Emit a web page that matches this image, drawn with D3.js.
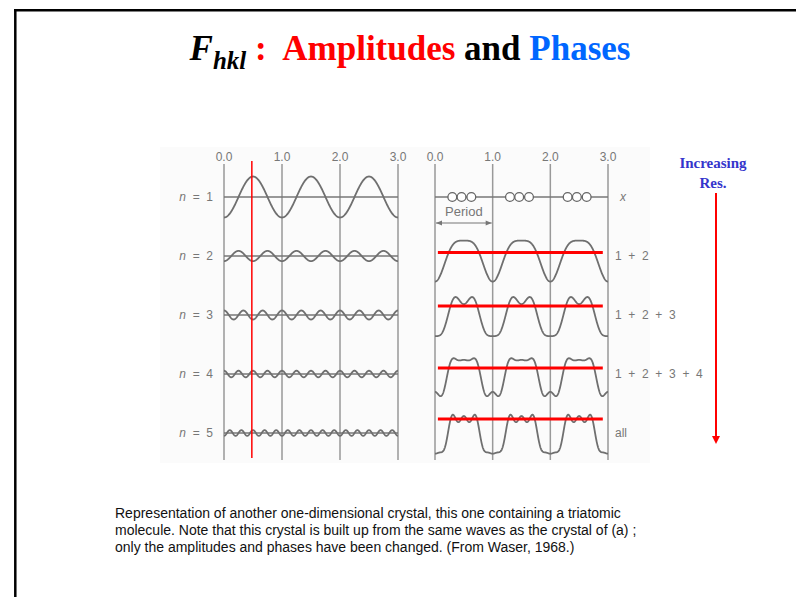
<!DOCTYPE html>
<html lang="en">
<head>
  <meta charset="UTF-8" />
  <title>F_hkl : Amplitudes and Phases</title>
  <script src="https://d3js.org/d3.v7.min.js"></script>
  <style>
    body { margin: 0; background: #fff; }
    svg { display: block; }
    .tick-label { font-family: "Liberation Sans", Arial, sans-serif; font-size: 12px; fill: #777; }
    .row-label { font-family: "Liberation Sans", Arial, sans-serif; font-size: 12px; fill: #777; white-space: pre; }
    .grid { stroke: #999; stroke-width: 1.5px; }
    .wave { stroke: #6f6f6f; stroke-width: 1.8px; fill: none; }
    .base { stroke: #777; stroke-width: 1.3px; }
    .caption { font-family: "Liberation Sans", Arial, sans-serif; font-size: 14px; fill: #111; }
  </style>
</head>
<body>
  <svg id="slide" width="796" height="597"></svg>

  <script>
    // tick values on both panels
    const tickValues = [0, 1, 2, 3];
    const tickLabels = ["0.0", "1.0", "2.0", "3.0"];
    // harmonic orders and their signed amplitudes (coefficient of cos(2π n x))
    const harmonics = [1, 2, 3, 4, 5];
    const coeffs = [-1.0, -0.25, 0.22, 0.16, -0.14];
    // partial sums shown on the right
    const sumOrders = [2, 3, 4, 5];
    const sumLabels = ["1  +  2", "1  +  2  +  3", "1  +  2  +  3  +  4", "all"];
    // red guide levels on the partial sums (same units as coeffs)
    const redLevels = [0.17, 0.44, 0.29, 0.68];
    // atom positions within one period, and red marker on the left panel
    const atomPos = [0.30, 0.46, 0.63];
    const markerX = 0.48;
    const captionLines = [
      "Representation of another one-dimensional crystal, this one containing a triatomic",
      "molecule. Note that this crystal is built up from the same waves as the crystal of (a) ;",
      "only the amplitudes and phases have been changed. (From Waser, 1968.)"
    ];

    const svg = d3.select('#slide');

    // slide frame
    svg.append('line').attr('x1', 14).attr('x2', 796).attr('y1', 10.3).attr('y2', 10.3)
      .attr('stroke', '#000').attr('stroke-width', 2.5);
    svg.append('line').attr('x1', 15.3).attr('x2', 15.3).attr('y1', 9).attr('y2', 597)
      .attr('stroke', '#000').attr('stroke-width', 2.5);

    // title
    const title = svg.append('text').attr('x', 410).attr('y', 60).attr('text-anchor', 'middle')
      .style('font-family', '"Liberation Serif", "Times New Roman", serif')
      .style('font-weight', 'bold').style('font-size', '35px').style('white-space', 'pre');
    title.append('tspan').style('font-style', 'italic').text('F');
    title.append('tspan').style('font-style', 'italic').style('font-size', '25px').attr('dy', 9).text('hkl');
    title.append('tspan').attr('dy', -9).attr('fill', '#ff0000').text(' :  Amplitudes');
    title.append('tspan').attr('fill', '#000').text(' and ');
    title.append('tspan').attr('fill', '#0066ff').text('Phases');

    // figure background
    svg.append('rect').attr('x', 160).attr('y', 147).attr('width', 490).attr('height', 316)
      .attr('fill', '#fbfbfb');

    const xL = d3.scaleLinear().domain([0, 3]).range([224, 398]);
    const xR = d3.scaleLinear().domain([0, 3]).range([435, 608]);
    const rowY = d3.scaleLinear().domain([1, 5]).range([197, 433]);
    const amp = d3.scaleLinear().domain([-1, 1]).range([20.5, -20.5]);
    const gridTop = 164, gridBottom = 460;

    const samples = d3.range(0, 3.0001, 0.004);
    const partial = (x, order) => d3.sum(harmonics.slice(0, order), (n, i) => coeffs[i] * Math.cos(2 * Math.PI * n * x));

    [xL, xR].forEach(x => {
      svg.append('g').selectAll('line').data(tickValues).join('line').attr('class', 'grid')
        .attr('x1', d => x(d)).attr('x2', d => x(d)).attr('y1', gridTop).attr('y2', gridBottom);
      svg.append('g').selectAll('text').data(tickValues).join('text').attr('class', 'tick-label')
        .attr('x', d => x(d)).attr('y', 161).attr('text-anchor', 'middle').text((d, i) => tickLabels[i]);
    });

    // left panel: individual harmonics
    harmonics.forEach((n, i) => {
      const y0 = rowY(n);
      svg.append('line').attr('class', 'base').attr('x1', xL(0)).attr('x2', xL(3)).attr('y1', y0).attr('y2', y0);
      svg.append('path').attr('class', 'wave')
        .attr('d', d3.line().x(d => xL(d)).y(d => y0 + amp(coeffs[i] * Math.cos(2 * Math.PI * n * d)))(samples));
      const lab = svg.append('text').attr('class', 'row-label').attr('x', 213).attr('y', y0 + 4)
        .attr('text-anchor', 'end');
      lab.append('tspan').style('font-style', 'italic').text('n');
      lab.append('tspan').text('  =  ' + n);
    });

    // red marker
    svg.append('line').attr('x1', xL(markerX)).attr('x2', xL(markerX)).attr('y1', 161).attr('y2', 458)
      .attr('stroke', '#ff0000').attr('stroke-width', 1.5);

    // right panel: atoms row
    const yA = rowY(1);
    svg.append('line').attr('class', 'base').attr('x1', xR(0)).attr('x2', xR(3)).attr('y1', yA).attr('y2', yA);
    const atoms = d3.range(3).flatMap(p => atomPos.map(a => p + a));
    svg.append('g').selectAll('circle').data(atoms).join('circle')
      .attr('cx', d => xR(d)).attr('cy', yA).attr('r', 4.4)
      .attr('fill', '#fff').attr('stroke', '#666').attr('stroke-width', 1.3);
    svg.append('text').attr('class', 'row-label').attr('x', 620).attr('y', yA + 4)
      .style('font-style', 'italic').text('x');
    svg.append('text').attr('class', 'row-label').attr('x', (xR(0) + xR(1)) / 2).attr('y', 216)
      .attr('text-anchor', 'middle').style('font-size', '13px').text('Period');

    const defs = svg.append('defs');
    defs.append('marker').attr('id', 'gh').attr('viewBox', '0 0 10 10').attr('refX', 10).attr('refY', 5)
      .attr('markerWidth', 7).attr('markerHeight', 5).attr('orient', 'auto-start-reverse')
      .append('path').attr('d', 'M0,1 L10,5 L0,9 Z').attr('fill', '#777');
    defs.append('marker').attr('id', 'rh').attr('viewBox', '0 0 10 10').attr('refX', 5).attr('refY', 5)
      .attr('markerWidth', 4).attr('markerHeight', 4).attr('orient', 'auto')
      .append('path').attr('d', 'M0,0 L10,5 L0,10 Z').attr('fill', '#ff0000');

    svg.append('line').attr('x1', xR(0) + 1).attr('x2', xR(1) - 1).attr('y1', 223).attr('y2', 223)
      .attr('stroke', '#777').attr('stroke-width', 1.2)
      .attr('marker-start', 'url(#gh)').attr('marker-end', 'url(#gh)');

    // right panel: partial sums
    sumOrders.forEach((order, k) => {
      const y0 = rowY(order);
      svg.append('path').attr('class', 'wave')
        .attr('d', d3.line().x(d => xR(d)).y(d => y0 + amp(partial(d, order)))(samples));
      svg.append('line').attr('x1', xR(0.05)).attr('x2', xR(2.91))
        .attr('y1', y0 + amp(redLevels[k])).attr('y2', y0 + amp(redLevels[k]))
        .attr('stroke', '#ff0000').attr('stroke-width', 3);
      svg.append('text').attr('class', 'row-label').attr('x', 615).attr('y', y0 + 4).text(sumLabels[k]);
    });

    // increasing resolution note
    const note = svg.append('g').style('font-family', '"Liberation Serif", "Times New Roman", serif')
      .style('font-weight', 'bold').style('font-size', '15px').attr('fill', '#3535cc');
    note.append('text').attr('x', 713).attr('y', 168).attr('text-anchor', 'middle').text('Increasing');
    note.append('text').attr('x', 713).attr('y', 188).attr('text-anchor', 'middle').text('Res.');
    svg.append('line').attr('x1', 716).attr('x2', 716).attr('y1', 193).attr('y2', 440)
      .attr('stroke', '#ff0000').attr('stroke-width', 2).attr('marker-end', 'url(#rh)');

    // caption
    svg.append('g').selectAll('text').data(captionLines).join('text').attr('class', 'caption')
      .attr('x', 115).attr('y', (d, i) => 518 + i * 17).text(d => d);
  </script>
</body>
</html>
